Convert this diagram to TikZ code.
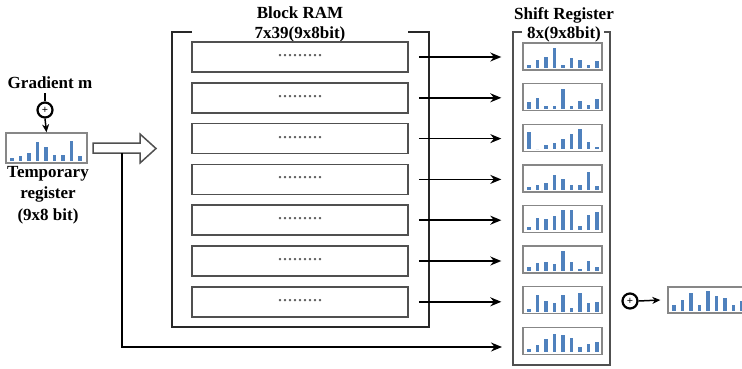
\documentclass[tikz,border=0pt]{standalone}
\usepackage{fontspec}
\setmainfont{Liberation Serif}
\usetikzlibrary{arrows.meta}
\definecolor{barblue}{RGB}{79,129,189}
\definecolor{regline}{RGB}{135,135,135}
\definecolor{rowline}{RGB}{80,80,80}
\definecolor{frameline}{RGB}{40,40,40}
\tikzset{
  reg/.style={draw=regline,line width=1.4pt,inner sep=0pt,fill=white},
  rowbox/.style={draw=rowline,line width=1.7pt,inner sep=0pt,minimum width=216pt,minimum height=30pt},
  dots/.style={font=\fontsize{20}{20}\selectfont,text=gray!75!black,inner sep=0pt},
  frame/.style={draw=frameline,line width=1.6pt},
  title/.style={font=\fontsize{17}{20}\selectfont\bfseries,inner sep=0pt},
  conn/.style={draw=black,line width=1.5pt},
  arr/.style={conn,-{Stealth[length=11pt,width=9pt]}},
  sarr/.style={conn,-{Stealth[length=8pt,width=7pt]}},
  oplus/.style={circle,draw=black,line width=2.2pt,minimum size=15pt,inner sep=0pt,
     font=\fontsize{11}{11}\selectfont\bfseries},
}
\newcommand\histreg[6]{%
  \node[reg,minimum width=#4pt,minimum height=#5pt] (#1) at (#2,#3) {};
  \foreach \h [count=\i] in {#6} {\fill[barblue] ({#2-#4/2+6+8.5*(\i-1)-1.75},{#3+#5/2-2}) rectangle ++(3.5,{-20*\h});}%
}
\begin{document}
\begin{tikzpicture}[x=1pt,y=-1pt]
\useasboundingbox (0,0) rectangle (742,368);

% ---- left part
\node[title] (grad) at (50,83) {Gradient m};
\node[oplus] (pl) at (45,110) {+};
\draw[conn] (45,93) coordinate (gtop) -- (pl.north);
\histreg{temp}{46.5}{148}{81}{30}{0.15,0.25,0.4,0.95,0.7,0.3,0.3,1.0,0.25}
\draw[sarr] (pl.south) -- (temp.north);
\node[title,align=center,font=\fontsize{17}{21.5}\selectfont\bfseries] (tlab) at (48,195)
  {Temporary\\register\\(9x8 bit)};

% hollow arrow
\draw[draw=rowline,line width=1.5pt,fill=white]
  (93,143) -- (140,143) -- (140,134) -- (156,148.5) -- (140,163) -- (140,153) -- (93,153) -- cycle;
\coordinate (tap) at (122,153);

% ---- Block RAM
\node[title] (bram) at (300,13) {Block RAM};
\node[title] (bramsz) at (300,34.5) {7x39(9x8bit)};
\draw[frame] (192,32) -- (172,32) -- (172,327) -- (429,327) -- (429,32) -- (408,32);
\foreach \k in {1,...,7} {
  \node[rowbox] (r\k) at (300,{57+40.8*(\k-1)}) {};
  \node[dots] (d\k) at (300,{55.5+40.8*(\k-1)}) {.........};
}

% ---- Shift register
\node[title] (sreg) at (564,15) {Shift Register};
\node[title] (sregsz) at (564,34) {8x(9x8bit)};
\draw[frame,draw=rowline] (522,32) -- (513,32) -- (513,365) -- (610,365) -- (610,32) -- (604,32);
\histreg{s1}{562.5}{56.5}{79}{27}{0.15,0.4,0.55,1.0,0.15,0.5,0.4,0.15,0.35}
\histreg{s2}{562.5}{97.1}{79}{27}{0.35,0.55,0.15,0.15,1.0,0.15,0.4,0.2,0.5}
\histreg{s3}{562.5}{137.7}{79}{27}{0.85,0,0.2,0.3,0.5,0.75,1.0,0.35,0.12}
\histreg{s4}{562.5}{178.3}{79}{27}{0.15,0.25,0.35,0.75,0.55,0.25,0.25,0.9,0.2}
\histreg{s5}{562.5}{218.9}{79}{27}{0.15,0.6,0.55,0.7,1.0,1.0,0.2,0.75,0.9}
\histreg{s6}{562.5}{259.5}{79}{27}{0.2,0.4,0.45,0.35,1.0,0.45,0.12,0.5,0.2}
\histreg{s7}{562.5}{300.1}{79}{27}{0.12,0.85,0.55,0.45,0.85,0.2,0.95,0.45,0.5}
\histreg{s8}{562.5}{340.7}{79}{27}{0.15,0.35,0.65,0.9,0.85,0.7,0.25,0.4,0.5}

\foreach \k in {1,...,7} {
  \draw[arr] ([xshift=10pt]r\k.east) -- ([xshift=-21pt]r\k.east -| s\k.west);
}
\coordinate (e8) at (502,347);
\draw[arr] (tap) |- (e8);

% ---- output
\node[oplus] (pr) at (630,301) {+};
\histreg{out}{708}{300}{80}{26}{0.3,0.55,0.9,0.3,1.0,0.75,0.65,0.3,0.5}
\draw[sarr] (pr.east) -- ([xshift=-7pt]out.west);
\end{tikzpicture}
\end{document}
